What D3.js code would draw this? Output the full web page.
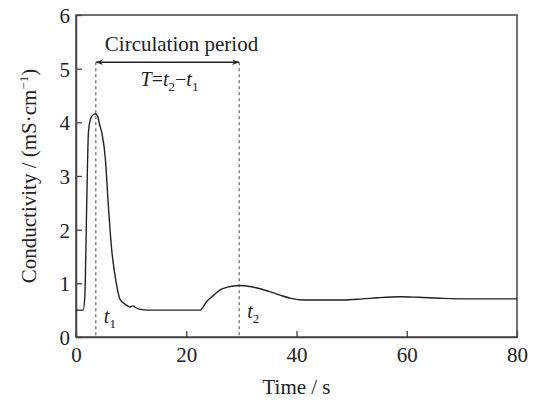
<!DOCTYPE html>
<html>
<head>
<meta charset="UTF-8">
<script src="https://cdn.jsdelivr.net/npm/d3@7"></script>
<style>
  body { margin: 0; background: #fff; }
  svg text { font-family: "Liberation Serif", "Times New Roman", Times, serif !important; fill: #222; }
</style>
</head>
<body>
<div id="chart"></div>
<script>
// conductivity trace
const timeS = [0, 1.3, 1.6, 1.95, 2.25, 2.6, 3.0, 3.5, 3.9, 4.3, 4.7, 5.3, 5.9, 6.5, 7.0, 7.4, 8.0, 8.8, 9.8, 10.4, 10.8, 11.5, 13, 16, 20, 22.5, 23.7, 25, 26.1, 27.5, 29.6, 31.5, 33.4, 35, 37, 39, 41.2, 45, 48.5, 52, 54.6, 58.8, 62, 66.6, 72, 80];
const cond  = [0.5, 0.5, 0.75, 2.5, 3.8, 4.05, 4.13, 4.16, 4.12, 3.95, 3.8, 3.35, 2.4, 1.6, 1.2, 0.95, 0.7, 0.62, 0.56, 0.58, 0.55, 0.52, 0.5, 0.5, 0.5, 0.5, 0.66, 0.78, 0.875, 0.93, 0.96, 0.94, 0.9, 0.85, 0.78, 0.72, 0.69, 0.69, 0.69, 0.71, 0.73, 0.75, 0.74, 0.72, 0.71, 0.71];
const xTicks = [0, 20, 40, 60, 80];
const yTicks = [0, 1, 2, 3, 4, 5, 6];
const t1 = 3.6, t2 = 29.6;   // marked times
const arrowLevel = 5.12;

const width = 539, height = 400;
const margin = { top: 15, right: 22, bottom: 63, left: 76 };
const w = width - margin.left - margin.right;
const h = height - margin.top - margin.bottom;

const svg = d3.select("#chart").append("svg")
  .attr("width", width).attr("height", height)
  .attr("font-family", "Liberation Serif");

const defs = svg.append("defs");
["start", "end"].forEach(k => {
  defs.append("marker")
    .attr("id", "arr-" + k)
    .attr("viewBox", "0 0 10 10")
    .attr("refX", k == "end" ? 10 : 0).attr("refY", 5)
    .attr("markerWidth", 9).attr("markerHeight", 7)
    .attr("markerUnits", "userSpaceOnUse")
    .attr("orient", "auto")
    .append("path")
    .attr("d", k == "end" ? "M0,1 L10,5 L0,9 L3,5 Z" : "M10,1 L0,5 L10,9 L7,5 Z")
    .attr("fill", "#222");
});

const g = svg.append("g").attr("transform", `translate(${margin.left},${margin.top})`);

const x = d3.scaleLinear().domain([0, 80]).range([0, w]);
const y = d3.scaleLinear().domain([0, 6]).range([h, 0]);

// frame
g.append("rect").attr("width", w).attr("height", h)
  .attr("fill", "none").attr("stroke", "#444").attr("stroke-width", 1.5);

const xAxis = g.append("g").attr("transform", `translate(0,${h})`)
  .call(d3.axisBottom(x).tickValues(xTicks).tickFormat(d3.format("d"))
    .tickSizeInner(-6).tickSizeOuter(0).tickPadding(10));
const yAxis = g.append("g")
  .call(d3.axisLeft(y).tickValues(yTicks).tickFormat(d3.format("d"))
    .tickSizeInner(-6).tickSizeOuter(0).tickPadding(6));

[xAxis, yAxis].forEach(a => {
  a.attr("font-family", null).attr("font-size", null);
  a.select(".domain").attr("stroke", "#444").attr("stroke-width", 1.5);
  a.selectAll(".tick line").attr("stroke", "#444").attr("stroke-width", 1.3);
  a.selectAll(".tick text").style("font-size", "21px").attr("fill", "#222");
});
yAxis.selectAll(".tick text").attr("dy", "0.35em");

// dashed markers
[t1, t2].forEach(t => {
  g.append("line")
    .attr("x1", x(t)).attr("x2", x(t))
    .attr("y1", y(arrowLevel)).attr("y2", y(0))
    .attr("stroke", "#444").attr("stroke-width", 1)
    .attr("stroke-dasharray", "3,3");
});

g.append("line")
  .attr("x1", x(t1)).attr("x2", x(t2))
  .attr("y1", y(arrowLevel)).attr("y2", y(arrowLevel))
  .attr("stroke", "#222").attr("stroke-width", 1.3)
  .attr("marker-start", "url(#arr-start)")
  .attr("marker-end", "url(#arr-end)");

// curve
const line = d3.line()
  .x((d, i) => x(timeS[i]))
  .y(d => y(d))
  .curve(d3.curveMonotoneX);

g.append("path").datum(cond)
  .attr("d", line)
  .attr("fill", "none").attr("stroke", "#222").attr("stroke-width", 1.4);

// annotations
const mid = x((t1 + t2) / 2);
g.append("text")
  .attr("x", mid + 14).attr("y", 36)
  .attr("text-anchor", "middle").style("font-size", "21px")
  .text("Circulation period");

const tl = g.append("text")
  .attr("x", mid + 2).attr("y", 71)
  .attr("text-anchor", "middle").style("font-size", "20px");
tl.append("tspan").style("font-style", "italic").text("T");
tl.append("tspan").text("=");
tl.append("tspan").style("font-style", "italic").text("t");
tl.append("tspan").attr("dy", 5).style("font-size", "13px").text("2");
tl.append("tspan").attr("dy", -5).text("\u2212");
tl.append("tspan").style("font-style", "italic").text("t");
tl.append("tspan").attr("dy", 5).style("font-size", "13px").text("1");

function subLabel(tx, ty, sub) {
  const t = g.append("text").attr("x", tx).attr("y", ty).style("font-size", "20px");
  t.append("tspan").style("font-style", "italic").text("t");
  t.append("tspan").attr("dy", 5).style("font-size", "13px").text(sub);
}
subLabel(x(t1) + 8, y(0.27), "1");
subLabel(x(t2) + 8, y(0.35), "2");

// axis titles
svg.append("text")
  .attr("x", margin.left + x(40)).attr("y", 394)
  .attr("text-anchor", "middle").style("font-size", "21px")
  .text("Time / s");

const yl = svg.append("text")
  .attr("transform", `translate(36,${margin.top + h / 2}) rotate(-90)`)
  .attr("text-anchor", "middle").style("font-size", "21px");
yl.append("tspan").text("Conductivity / (mS\u00b7cm");
yl.append("tspan").attr("dy", -8).style("font-size", "13px").text("\u22121");
yl.append("tspan").attr("dy", 8).text(")");
</script>
</body>
</html>
